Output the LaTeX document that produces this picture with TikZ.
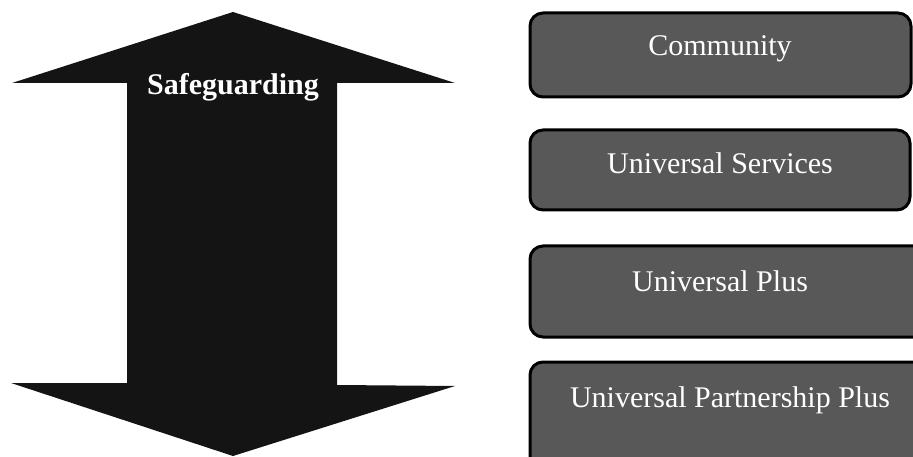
\documentclass[tikz,border=0pt]{standalone}
\usepackage{fontspec}
\setmainfont{Liberation Serif}
\definecolor{arrowfill}{HTML}{141414}
\definecolor{boxfill}{HTML}{585858}
\tikzset{
  levelbox/.style={draw=black, line width=3pt, fill=boxfill, rounded corners=13pt},
  leveltext/.style={text=white, font=\fontsize{30}{34}\selectfont, inner sep=0pt},
}
\begin{document}
\begin{tikzpicture}[x=1pt,y=-1pt]
\useasboundingbox (0,0) rectangle (913,457);
\clip (0,0) rectangle (913,457);
% double arrow
\fill[arrowfill] (233,12) -- (455,83) -- (337,83) -- (337,385) -- (455,386)
  -- (233,456) -- (11,383) -- (127,383) -- (127,83) -- (12,83) -- cycle;
\node[text=white, font=\bfseries\fontsize{30}{34}\selectfont, inner sep=0pt, anchor=base]
  (safe) at (233,95) {Safeguarding};
% level boxes
\draw[levelbox] (530,13) rectangle (911,97);
\node[leveltext, anchor=base] (community) at (720,56) {Community};
\draw[levelbox] (530,130) rectangle (910,210);
\node[leveltext, anchor=base] (services) at (720,174) {Universal Services};
\draw[levelbox] (530,246) rectangle (930,337);
\node[leveltext, anchor=base] (plus) at (720,291) {Universal Plus};
\draw[levelbox] (530,362) rectangle (930,480);
\node[leveltext, anchor=base] (upp) at (730,407) {Universal Partnership Plus};
\end{tikzpicture}
\end{document}
